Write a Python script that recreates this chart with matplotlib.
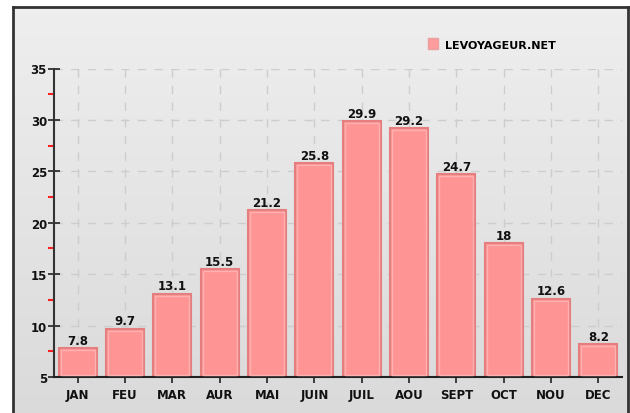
import matplotlib
matplotlib.use("Agg")
import matplotlib.pyplot as plt
import numpy as np
from matplotlib.patches import Rectangle

months = ["JAN", "FEU", "MAR", "AUR", "MAI", "JUIN", "JUIL", "AOU", "SEPT", "OCT", "NOU", "DEC"]
temps = [7.8, 9.7, 13.1, 15.5, 21.2, 25.8, 29.9, 29.2, 24.7, 18, 12.6, 8.2]
temp_labels = ["7.8", "9.7", "13.1", "15.5", "21.2", "25.8", "29.9", "29.2", "24.7", "18", "12.6", "8.2"]
yticks = [5, 10, 15, 20, 25, 30, 35]
yminor = [7.5, 12.5, 17.5, 22.5, 27.5, 32.5]
legend_label = "LEVOYAGEUR.NET"

W, H = 630, 414
fig = plt.figure(figsize=(W / 100, H / 100), dpi=100)
fig.patch.set_facecolor("white")

# gradient background panel with frame
bg = fig.add_axes([13 / W, -0.01, (628 - 13) / W, 1.01 - 8 / H])
grad = np.linspace(0.935, 0.855, 256).reshape(-1, 1)
bg.imshow(np.dstack([grad, grad, grad]), aspect="auto", extent=[0, 1, 0, 1], origin="upper")
bg.set_xlim(0, 1)
bg.set_ylim(0, 1)
bg.set_xticks([])
bg.set_yticks([])
for s in ["top", "left", "right"]:
    bg.spines[s].set_linewidth(2.0)
    bg.spines[s].set_color("#333333")
bg.spines["bottom"].set_visible(False)

ax = fig.add_axes([54 / W, 1 - 378 / H, (622 - 54) / W, (378 - 69.5) / H])
ax.set_facecolor("none")
x = np.arange(len(months))

ax.set_xlim(-0.5, len(months) - 0.5)
ax.set_ylim(5, 35)

# grid
for yv in yticks[1:]:
    ax.axhline(yv, color="#cdcdcd", lw=1.0, ls=(0, (6, 6)), zorder=0)
for xv in x:
    ax.axvline(xv, color="#cdcdcd", lw=1.0, ls=(0, (6, 6)), zorder=0)

bars = ax.bar(x, np.array(temps) - 5, bottom=5, width=0.8, color="#ff9494",
              edgecolor="#e57f7f", linewidth=1.5, zorder=2, label=legend_label)
ax.bar(x, np.array(temps) - 5.35, bottom=5.15, width=0.72, color="none",
       edgecolor="#ffb0b0", linewidth=1.0, zorder=3)
ax.bar_label(bars, labels=temp_labels, padding=1, fontsize=8.5, fontweight="bold",
             color="#111111", family="DejaVu Sans")

ax.set_xticks(x)
ax.set_xticklabels(months, fontsize=8.5, fontweight="bold", color="#111111")
ax.set_yticks(yticks)
ax.set_yticklabels([str(v) for v in yticks], fontsize=8.5, fontweight="bold", color="#111111")
ax.set_yticks(yminor, minor=True)
ax.tick_params(axis="y", which="major", direction="inout", length=8, width=1.2, color="#222222", pad=1)
ax.tick_params(axis="y", which="minor", direction="out", length=4, width=1.5, color="#ff2020")
ax.tick_params(axis="x", which="major", direction="out", length=4, width=1.2, color="#222222", pad=4)

for s in ["top", "right"]:
    ax.spines[s].set_visible(False)
ax.spines["left"].set_linewidth(1.5)
ax.spines["left"].set_color("#333333")
ax.spines["bottom"].set_linewidth(1.5)
ax.spines["bottom"].set_color("#222222")

leg = fig.legend(handles=[Rectangle((0, 0), 1, 1, facecolor="#ff9c9c", edgecolor="#e8a0a0")],
                 labels=[legend_label], loc="center left",
                 bbox_to_anchor=(418 / W, 1 - 45 / H), frameon=False,
                 prop={"size": 8, "weight": "bold"}, handlelength=0.9, handleheight=1.1,
                 handletextpad=0.6)

fig.savefig("out.png", dpi=100)
